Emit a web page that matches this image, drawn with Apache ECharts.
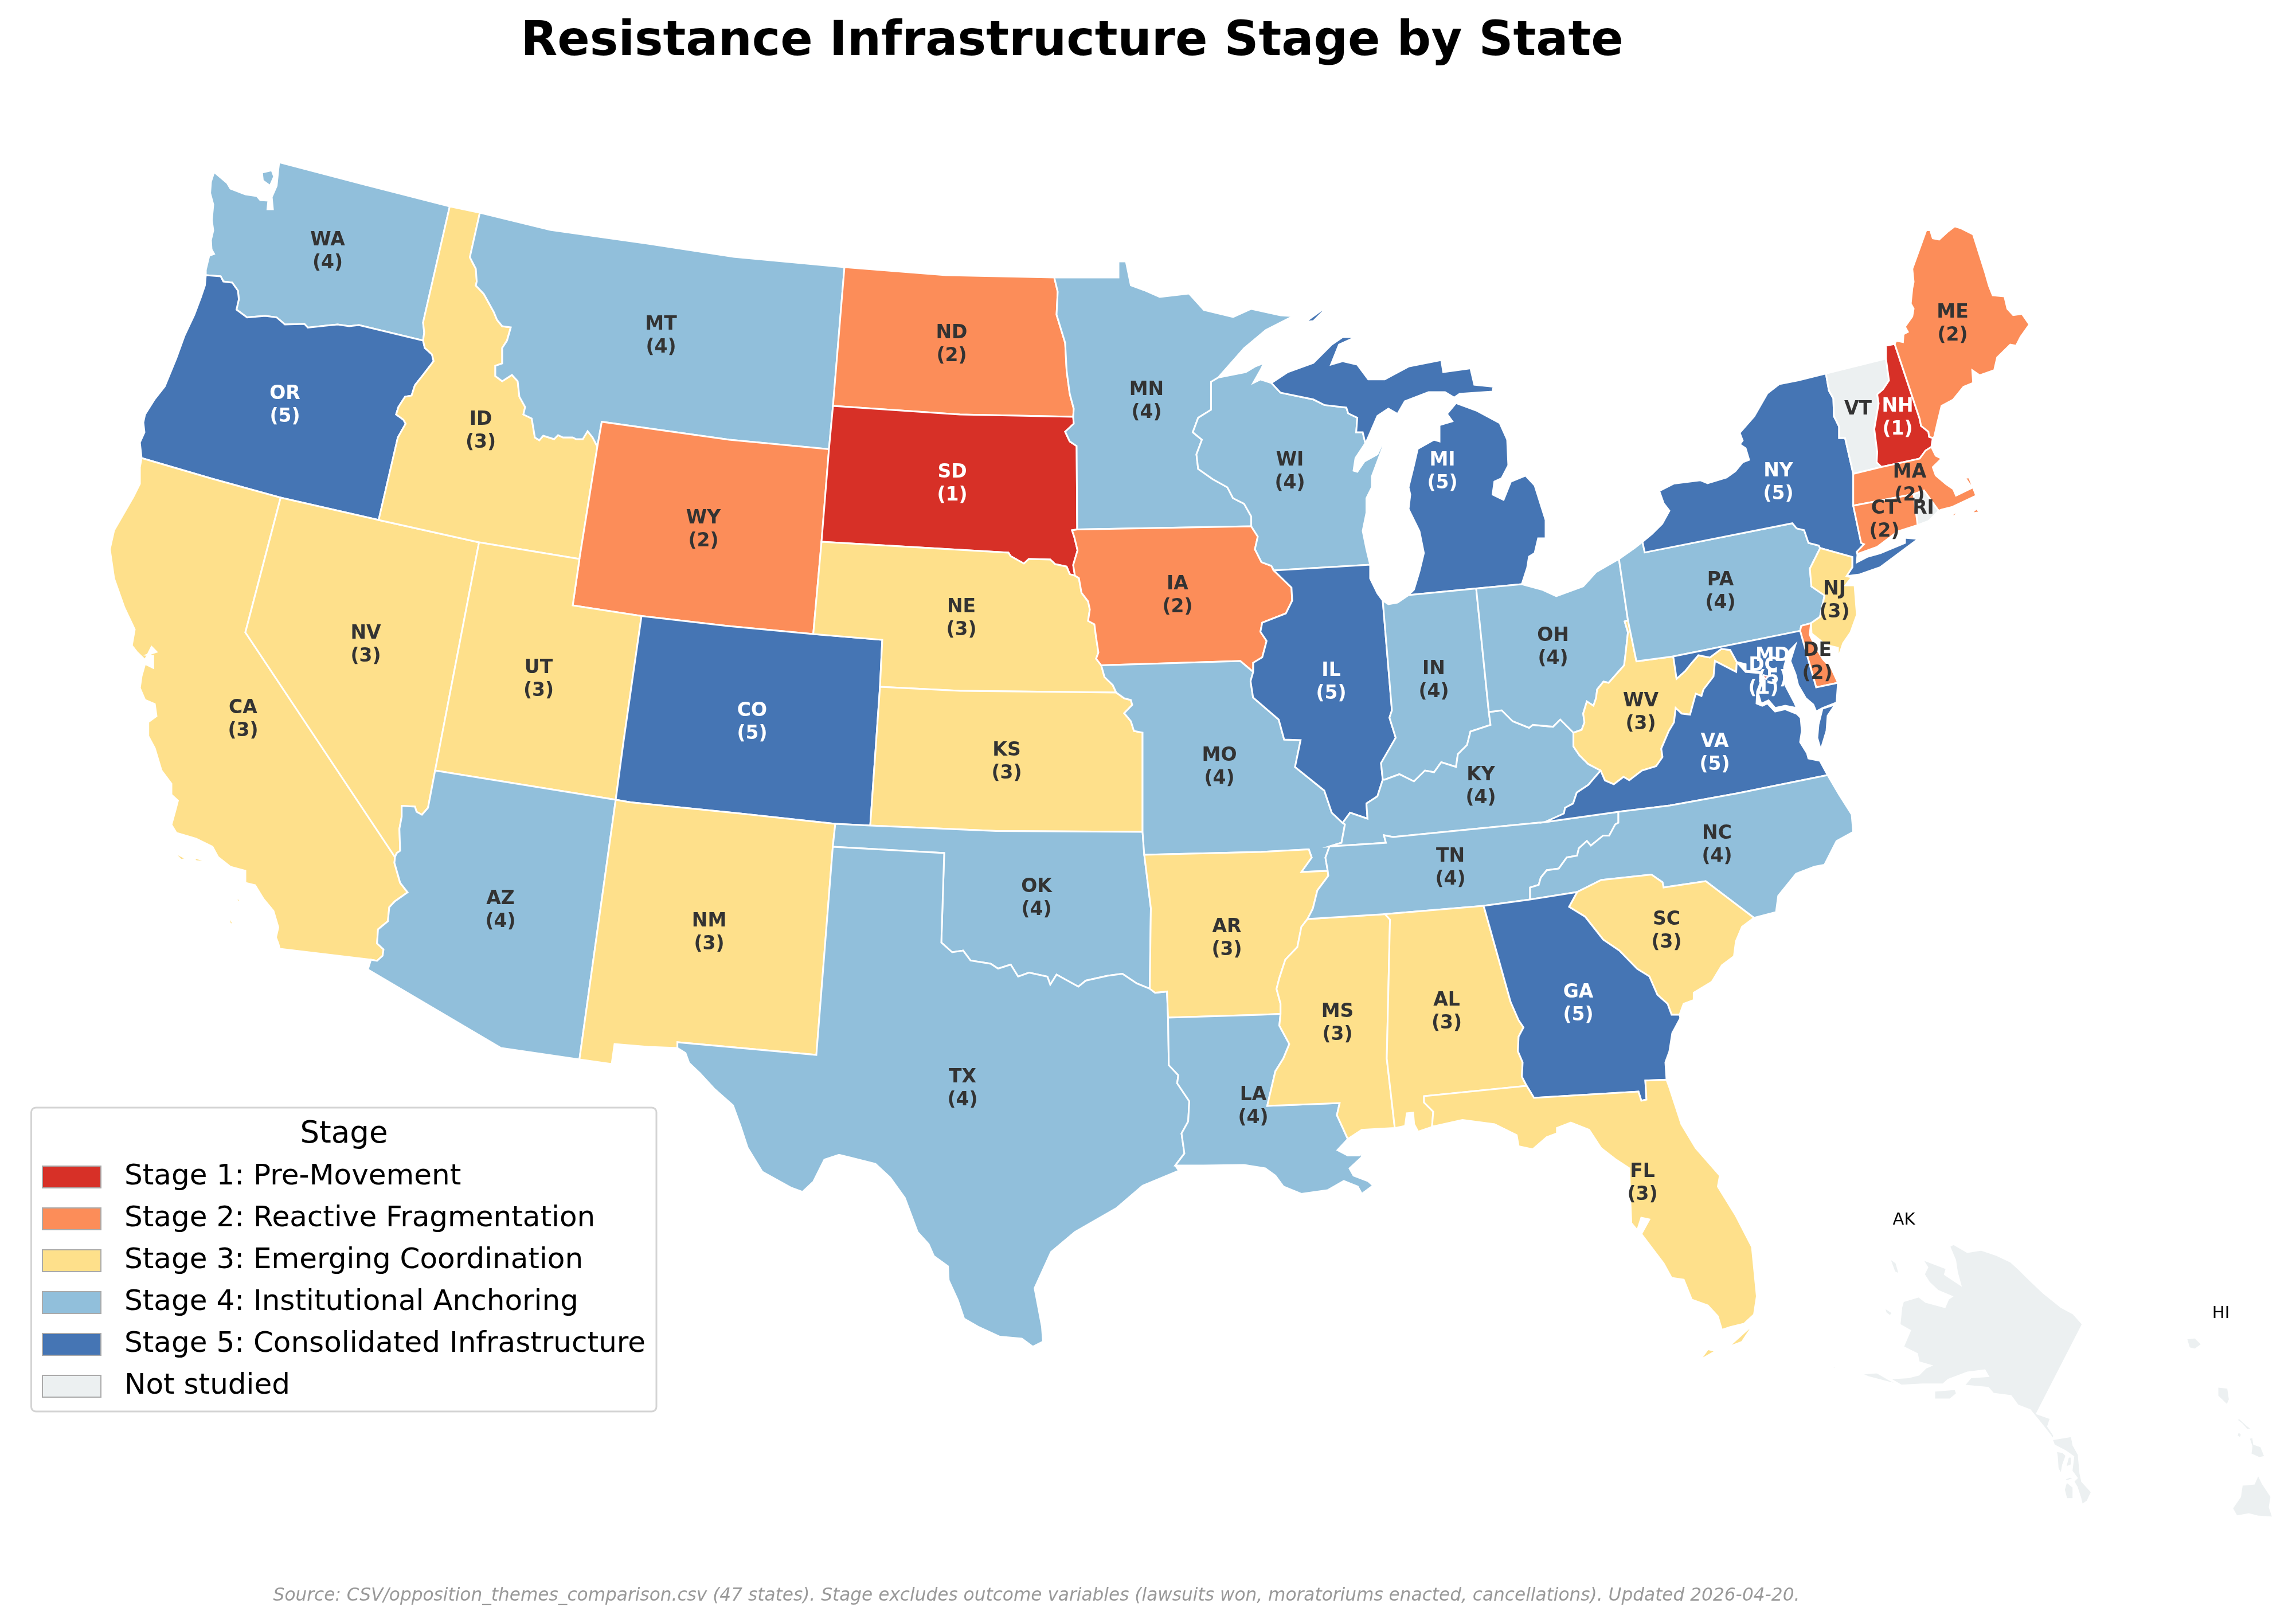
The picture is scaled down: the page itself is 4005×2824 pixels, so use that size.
<!DOCTYPE html>
<html>
<head>
<meta charset="utf-8">
<title>Resistance Infrastructure Stage by State</title>
<script src="https://cdn.jsdelivr.net/npm/echarts@6/dist/echarts.min.js"></script>
<style>
html, body { margin: 0; padding: 0; background: #fff; }
#chart { width: 4005px; height: 2824px; }
</style>
</head>
<body>
<div id="chart"></div>
<script>
// stage read for every state, 6 = not studied (last row of the legend)
const notStudied = 6;
const stateCodes = ['WA','OR','CA','NV','ID','MT','WY','UT','AZ','CO','NM','ND','SD','NE','KS','OK','TX','MN','IA','MO','AR','LA','WI','IL','MS','MI','IN','KY','TN','AL','OH','WV','VA','NC','SC','GA','FL','PA','NY','VT','NH','ME','MA','RI','CT','NJ','DE','MD','DC','AK','HI'];
const stateStages = [4,5,3,3,3,4,2,3,4,5,3,2,1,3,3,4,4,4,2,4,3,4,4,5,3,5,4,4,4,3,4,3,5,4,3,5,3,4,5,6,1,2,2,6,2,3,2,5,1,6,6];
const stageValues = [1,2,3,4,5,6];
const stageLabels = ['Stage 1: Pre-Movement','Stage 2: Reactive Fragmentation','Stage 3: Emerging Coordination','Stage 4: Institutional Anchoring','Stage 5: Consolidated Infrastructure','Not studied'];
const stageColors = ['#d73027','#fc8d59','#fee08b','#91bfdb','#4575b4','#ecf0f1'];

const titleText = 'Resistance Infrastructure Stage by State';
const sourceText = 'Source: CSV/opposition_themes_comparison.csv (47 states). Stage excludes outcome variables (lawsuits won, moratoriums enacted, cancellations). Updated 2026-04-20.';

// shared state borders, in the map's own plane
const borders = {
  wa_north: '487,283 632,321 784.5,360',
  wa_coast: '487,283 485.5,295 482.6,324 474,344 476,365 466.5,365 468,350 454,349 448,342 428,339 402,329 396,319 373.5,300 368,317 366.6,337 372,357 369.5,384 372,402 368,419 369,435 373.5,443 365,446 359,471 359,480',
  wa_or: '359,480 385,482 389.6,491 405,493 415,507 416.6,522 412.5,540 431,553.6 462.5,551 482.6,553.6 497,566 531,565 537,571.4 568.7,568 589,566 609,569 626,567 738,594',
  wa_id: '784.5,360 738,562.5 740,580 738,594',
  or_id: '738,594 741,607 753.5,618 756.4,630 738,654 723.7,672 718,690 706.5,692 695,710 691,723 703.6,732 707.6,739 694,763 660.5,907',
  or_coast: '359,480 357.4,498 350.6,518 339,549 322,585 307.5,625 287.4,674 270,696 253,723 250,737 252,754 244,772 247,799',
  ca_or: '247,799 370,835 489.5,868',
  nv_or: '489.5,868 660.5,907',
  nv_id: '660.5,907 835.6,946',
  id_ut: '835.6,946 1010.7,975',
  id_north: '784.5,360 837,371',
  id_mt: '837,371 819.6,448.7 830,469 831.6,491 830,498 844,513 861.5,544.6 867,558 876,569 891,571 884.4,594 876,607 876,634 864,638 864,656 876,665 893,654 903,665 906,692 916,710 913,723 927.5,730 933,763 940.7,768 947.6,760 966.5,766 973.4,759 982,763 999,763 1005,766 1016.5,766 1025,752 1033.7,763 1042,779',
  id_wy: '1042,779 1010.7,975',
  mt_north: '837,371 960,401 1130,425 1280,448 1473,466',
  mt_nd: '1473,466 1453,708',
  mt_sd: '1453,708 1446,783.5',
  mt_wy: '1042,779 1049.7,735.7 1272,767 1446,783.5',
  nd_north: '1473,466 1650,480 1839,484',
  nd_mn: '1839,484 1845,509 1843,549 1858,598 1860.6,647 1866,687 1873,713 1872,727',
  nd_sd: '1453,708 1674,723 1872,727',
  sd_mn: '1872,727 1873,739 1858,753 1866,770 1878,778 1879,923.5',
  sd_ia: '1879,923.5 1870,925 1874,937 1879.6,960 1872,985.5 1875,1004',
  sd_ne: '1433,945 1759,964 1763,970 1786,983 1794.6,975 1832,976 1840.5,984 1860.6,988.4 1866,1001.6 1875,1004',
  wy_sd: '1446,783.5 1433,945',
  wy_ne: '1433,945 1418.6,1106',
  wy_co: '1418.6,1106 1270,1092 1119,1074.5',
  wy_ut: '1119,1074.5 999,1056 1010.7,975',
  ne_ia: '1875,1004 1882,1008.5 1886.5,1034 1898,1049 1901,1063 1898,1083 1909,1089 1912,1112 1916,1138 1912,1149 1921,1160.6',
  ne_mo: '1921,1160.6 1926.6,1181 1941,1195 1947,1208',
  ne_ks: '1535,1198 1674,1205 1947,1208',
  co_ne: '1418.6,1106 1539,1116 1535,1198',
  co_ks: '1535,1198 1518,1440',
  co_ok: '1518,1440 1457,1437',
  nm_co: '1074,1395 1100,1399.6 1291,1419 1457,1437',
  ut_co: '1119,1074.5 1088,1291 1074,1395',
  ks_mo: '1947,1208 1961,1218 1972.6,1221 1975,1229.5 1961,1244 1972.6,1258 1978,1275 1993,1278 1993,1451',
  ks_ok: '1518,1440 1738,1449.5 1993,1451',
  ut_az: '759,1344 1074,1395',
  nv_ut: '835.6,946 759,1344',
  nv_az: '759,1344 746.6,1409 736,1421 726.6,1416 723.7,1407 700.7,1405.6 700.7,1424.6 696.7,1445.6 698,1484 692,1488 689,1495',
  ca_nv: '489.5,868 428,1103 689,1495',
  ca_az: '689,1495 688,1505 698,1540 711,1556.5 689,1572 679,1582.5 676.6,1607 659.4,1621 657.7,1645.6 669,1656 667.4,1667 657.7,1676 647,1674',
  ca_south: '647,1674 488,1655',
  ca_coast: '488,1655 485.5,1645.6 481.4,1635 485.5,1617.5 477,1589 459.6,1568 445,1544 428,1540 428,1519 402,1512 380.4,1495 370.6,1477 342,1463 307.5,1452.6 299,1438.6 305.8,1414 310.4,1396.5 299,1386 299,1367 281.7,1344 270,1305 258.7,1284 258.7,1259.6 273,1249 270,1228 253,1221 244,1200 247,1179 253,1158 267.3,1165 267.3,1144 256,1142.5 273,1137 264.4,1128.4 253,1151 238.6,1137 230,1126 235,1098 217,1060 199,1009 191.6,958 199,925 214,899 233,866 244,844 244,815 247,799',
  az_nm: '1074,1395 1010.7,1848',
  az_south: '1010.7,1848 874,1828 641.6,1691 647,1674',
  nm_ok: '1457,1437 1452.7,1477',
  nm_tx: '1452.7,1477 1424,1840 1181.6,1818 1181.6,1828',
  nm_south: '1181.6,1828 1130,1826 1072,1821 1067,1856 1010.7,1848',
  ok_mo: '1993,1451 1996,1491',
  ok_ar: '1996,1491 2007.5,1584 2005.6,1724.6',
  ok_tx: '1452.7,1477 1647,1488 1642,1644 1661,1661 1680,1658 1693,1675.4 1728,1681 1741,1689.5 1763,1682.5 1776,1703.5 1795,1696.5 1827,1703.5 1832,1717.5 1843,1700 1881,1721 1894,1710.5 1932,1702 1957.8,1698.6 1983,1715.4 2005.6,1724.6',
  ar_tx: '2005.6,1724.6 2015,1731.6 2035.6,1729.5 2037.5,1775',
  la_tx: '2037.5,1775 2038.8,1858 2055.4,1875.4 2053.4,1889.5 2074.5,1921 2072.6,1956 2061,1977 2066,2012 2050,2033',
  tx_coast: '2050,2033 2056.6,2042 1993,2068.4 1948,2107 1875,2149 1833.4,2184 1804.7,2247 1817.5,2314 1819.4,2340 1801.5,2349 1782.4,2335 1744,2331.6 1705.9,2314 1681.6,2300 1670.8,2268 1654.8,2233 1653.6,2208.8 1629,2191 1619.8,2170 1600.6,2149 1578.3,2089.5 1552.8,2054 1527,2030 1482.6,2019 1463.5,2014.4 1438,2022.8 1418.9,2061 1399.7,2079 1380.6,2072 1329.6,2043.9 1304,2001.8 1291.3,1963 1278.6,1928 1246.7,1900 1221,1872 1202,1854 1195.7,1836.8 1181.6,1828',
  mn_north: '1839,484 1951,484 1951,456 1964,456 1972.6,497.6 1995.5,506 2023,518 2074,512 2100,540.6 2151,553 2182.6,538.7 2233.7,550 2256,551.4 2208,575.7 2170,607.6 2125,658.6',
  mn_wi: '2125,658.6 2112.5,666 2112.5,714.7 2090,728.7 2080.6,754 2096.6,767 2087,792.5 2090,818 2115.7,836 2141,850 2150.8,869 2170,878.6 2182.6,901 2182.6,918',
  mn_ia: '1879,923.5 2182.6,918',
  ia_wi: '2182.6,918 2194,936 2189,958 2200.5,980.6 2217.7,987 2222,995',
  ia_il: '2222,995 2252.8,1025 2254,1047.6 2243,1070 2201.8,1086 2198.6,1102 2209.4,1118 2201.8,1146.5 2186,1156 2186,1172',
  ia_mo: '1921,1160.6 2163.5,1153 2186,1172',
  wi_superior: '2125,658.6 2173,649 2189,639.4 2205,633 2198.6,645.8 2186,668 2198.6,661.8 2217.7,668',
  wi_mi: '2217.7,668 2233.7,685 2291,696.8 2310,706.4 2348.5,711 2351.7,721 2367.6,728.7 2365.7,754 2377,754 2381.6,773',
  wi_lake: '2381.6,773 2364.4,799 2361,821 2367.6,823 2380,805 2402.7,792.5 2421.8,751 2412,780 2393,831 2393,850 2383.5,869 2383.5,894.5 2377,926 2383.5,958 2390,985',
  wi_il: '2222,995 2390,985',
  il_lake: '2390,985 2390,1009 2402.7,1035 2412,1047.6',
  il_in: '2412,1047.6 2428,1239 2423.7,1251.7 2434.6,1286.8 2409,1331 2412,1360',
  il_ky: '2412,1360 2402.7,1389 2383.5,1401.6 2385.4,1428 2355,1417.5 2342,1435.4',
  il_mo: '2186,1172 2181.4,1188 2185.8,1216.6 2230.5,1255 2240,1290 2268.7,1291 2259,1337.8 2310,1379 2323,1417.5 2342,1435.4',
  mo_ky: '2342,1435.4 2346,1438 2340,1470 2319,1476.5',
  mo_tn: '2319,1476.5 2312,1496 2316,1519',
  mo_ar: '1996,1491 2200,1486 2283,1481.6 2288,1495.7 2270,1521 2316,1519',
  ar_tn: '2316,1519 2317,1527.6 2298,1553 2290,1585 2280.7,1603',
  ar_ms: '2280.7,1603 2270,1616.8 2263,1652 2242,1674 2231.6,1706 2226.7,1725 2233.7,1750.8 2233.7,1768.6',
  ar_la: '2233.7,1768.6 2200,1770 2037.5,1775',
  ms_la: '2233.7,1768.6 2231.6,1789 2249,1821 2238.6,1846.4 2224.6,1868.7 2210.5,1929 2336.8,1924 2332,1945 2351,1986.7',
  la_coast: '2351,1986.7 2333,2006 2351,2015.4 2372,2015.4 2379,1993 2375,2018.6 2354,2038 2361,2050.5 2386,2060 2395,2068 2375.4,2082.4 2368.4,2069.6 2344,2060 2315.8,2076 2270,2082.4 2238.6,2069.6 2224.6,2050.5 2207,2038 2170,2032 2100,2033 2050,2033',
  ms_coast: '2351,1986.7 2375.4,1970.8 2433,1967.6',
  tn_ms: '2280.7,1603 2416,1594.5',
  al_ms: '2416,1594.5 2424.6,1604 2419,1846.4 2433,1967.6',
  tn_al: '2416,1594.5 2588,1580',
  al_ga: '2588,1580 2635,1747.6 2649,1779.5 2657.5,1792 2649,1808 2647.7,1833.7 2656,1853 2654.7,1878 2663,1894',
  al_fl: '2663,1894 2484,1912 2484,1923 2500,1939 2498,1964.4 2501.8,1964.4',
  al_coast: '2501.8,1964.4 2473.7,1974 2466.7,1961 2465,1941 2454,1942 2451,1964 2433,1967.6',
  tn_ga: '2588,1580 2669,1569',
  nc_ga: '2751,1556 2669,1569',
  ga_sc: '2751,1556 2737,1581.8 2765,1599 2796.5,1639 2824.6,1658 2856,1690 2877,1703 2891,1735 2908.8,1750.8 2915.8,1770 2929.8,1770',
  ga_coast: '2929.8,1770 2931,1776 2917,1802 2912,1833.7 2905,1853 2907,1883.4',
  ga_fl: '2663,1894 2675.8,1915 2858,1904 2863,1920 2872,1918 2870,1884.7 2907,1883.4',
  fl_coast: '2907,1883.4 2912,1897 2933,1961 2958,2002.7 3000,2050.5 2996.5,2069.6 3028,2120.7 3056,2175 3064.5,2261 3059.6,2292.8 3042,2309 3017.5,2315 3003.5,2319.6 2996.5,2296 2979,2277 2951,2267 2937,2232 2915.8,2229 2901.8,2203.6 2863,2152.5 2877,2127 2863,2124 2856,2146 2845.6,2133.4 2844,2098 2842,2037.8 2817.5,2021.8 2793,2002.7 2772,1970.8 2740,1958 2715.8,1967.6 2715.8,1977 2698,1983.5 2673.7,2004.6 2649,1999.5 2645.6,1980 2607,1961 2551,1953.6 2501.8,1964.4',
  sc_coast: '2929.8,1770 2936.8,1750.8 2954.4,1744.4 2954.4,1731.6 2986,1712.5 3003.5,1683.8 3024.6,1668 3028,1642 3038.6,1616.8 3059.6,1601',
  nc_sc: '3059.6,1601 2975.4,1537 2901.8,1548 2900,1539 2880.7,1525.6 2793,1535 2751,1556',
  nc_coast: '3188,1352 3208,1386 3230,1420.7 3232.6,1451 3203.5,1467 3182.5,1508.4 3165,1511.6 3133,1524 3101.8,1562.6 3098,1591 3059.6,1601',
  tn_nc: '2669,1569 2669,1548 2684,1543.5 2687.7,1530.7 2698,1518 2719,1515 2733,1495.7 2751,1492.5 2754,1479.7 2768,1467 2775,1475 2796.5,1457.4 2807,1457.4 2817.5,1438 2823,1435 2823,1416',
  tn_va: '2694.6,1434 2823,1416',
  va_nc: '2823,1416 2913,1405 3029.5,1384 3188,1352',
  ky_tn: '2319,1476.5 2417.5,1470 2414,1457 2430,1460 2586,1444.6 2694.6,1434',
  ky_va: '2694.6,1434 2728,1419 2730,1409 2744,1401.6 2750.4,1382.5 2770.5,1369 2792,1344',
  ky_wv: '2792,1344 2770.5,1332.7 2755,1317.4 2744.6,1302 2744.6,1278',
  ky_oh: '2744.6,1278 2721.6,1255 2709,1267.6 2673.7,1264.4 2667.3,1269.5 2638.6,1258 2619.5,1239 2597,1242',
  in_ky: '2597,1242 2600,1264.4 2565,1276 2559,1299.5 2543,1315.5 2539.8,1337.8 2514,1329.5 2501.5,1347 2485.6,1344 2466.4,1363 2441,1350.5 2415.4,1360 2412,1360',
  in_oh: '2575,1026.5 2597,1242',
  in_mi: '2575,1026.5 2457,1038',
  in_lake: '2457,1038 2437.8,1051 2421.8,1054 2412,1047.6',
  mi_oh: '2654.6,1019 2575,1026.5',
  mi_lake: '2457,1038 2466.4,1028.5 2476,996.6 2483.7,964.7 2476,926.4 2457,888 2460,862.6 2457,850 2466.4,811.6 2473,783 2501.5,767 2511,770 2511,741.5 2533.4,735 2524,722 2539.8,703 2575,716 2616,738 2629,767 2631,811.6 2619.5,834 2606.7,840 2603.6,862.6 2622.7,872 2635.5,840 2661,829.5 2677,846.7 2696,907 2696,939 2683,939 2677,964.7 2667,971 2664,990 2654.6,1019',
  mi_up: '2217.7,668 2246.4,649 2291,633 2323,601 2342,588 2364.4,588 2335.7,601 2321.7,636 2342,630 2367.6,636 2386.7,661.8 2415.4,661.8 2428,655 2457,639.4 2514,628 2517.5,649 2565,642.6 2571.7,671 2605,674.5 2603.6,683 2546,687 2536.6,693.6 2520.7,684 2492,684 2450.5,700 2437.8,722 2421.8,712.8 2402.7,725.5 2383.5,770 2381.6,773',
  oh_erie: '2824,975 2784,998 2761.6,1022.7 2714.7,1040 2689.7,1028.5 2654.6,1019',
  oh_pa: '2824,975 2839.7,1082',
  oh_wv: '2839.7,1082 2834,1084 2839.7,1103 2835,1145 2833,1160.5 2806,1191 2797,1189 2786,1202.6 2784,1218 2779.5,1231 2768,1223.6 2761.6,1244.7 2763.8,1260 2759,1273 2744.6,1278',
  pa_wv: '2839.7,1082 2854.5,1153.6 2918.7,1145',
  pa_md: '2918.7,1145 3140,1100.4',
  pa_de: '3140,1100.4 3142,1091.6 3159,1087',
  pa_nj: '3175,956 3157,991.7 3159.7,1023 3182.6,1038.6 3174.6,1076 3159,1087',
  pa_ny: '2865,945 2869,963.6 3126.5,912.7 3134,921.6 3147,924.7 3154.6,947 3172.4,951.5 3175,956',
  pa_lake: '2824,975 2851,956 2865,945',
  ny_lake: '2865,945 2881.6,931.4 2899.5,913.6 2912,891 2902,878 2894.4,856.4 2920,843.5 2965.8,837.7 2978.6,843 3011.7,833 3027,822 3039.8,806.4 3051,802 3045,782 3034.7,775 3039.8,768.5 3034.7,755 3060,726 3083,686 3103.6,670 3136.7,663.6 3185,651.5',
  ny_vt: '3185,651.5 3190.3,681.4 3198,695 3199,726 3208,744 3208,764 3218.4,764 3232.7,826.5',
  ny_ma: '3232.7,826.5 3232.7,882',
  ny_ct: '3232.7,882 3246.4,947 3251.5,949.3 3238.8,962.7',
  ny_nj: '3175,956 3231,971.6 3231,989.5 3221,1005',
  ny_coast: '3238.8,962.7 3240,968 3238.8,981 3258,971 3279.6,965 3323,947 3323,938 3346,940 3279.6,989.5 3243.9,1002 3221,1005',
  nj_coast: '3221,1005 3230,1007 3219,1021 3235,1021 3239,1072.5 3228,1103 3215,1122 3206,1149',
  nj_bay: '3206,1149 3206,1130 3185,1125 3160,1105 3159,1087',
  de_coast: '3159,1087 3156.7,1107 3165,1125 3180,1150 3194.6,1166 3206,1191',
  de_md: '3206,1191 3168,1199 3140,1100.4',
  md_shore: '3206,1191 3203.6,1225.5 3179,1235 3168,1241 3163,1229 3150,1218 3136.6,1195 3132,1176 3123,1153 3132,1124 3119,1137.5 3112,1164 3114,1195 3130,1225.5 3134,1235 3114,1231 3096.4,1235 3085,1221.7 3072,1227.5 3067,1210 3076,1183.4 3069.6,1172 3045,1170 3045,1158.6 3029.5,1154.7',
  md_wv: '3029.5,1154.7 3018,1133.7 3002.7,1131.8 2982.6,1147 2962.5,1143 2949,1158.6 2940,1170 2924.5,1184 2918.7,1145',
  va_coast: '3188,1352 3174.5,1327 3154.5,1323 3152,1313.6 3140,1294.4 3143,1275 3141,1252 3134,1245 3114,1237 3096.4,1241 3083,1227 3074,1231 3064,1227 3065,1206 3074,1183 3069.6,1174 3045,1172 3029.5,1154.7',
  va_wv: '3029.5,1154.7 3028.6,1172 2991.5,1152.8 2989,1179.6 2971.4,1202.6 2968,1214 2958,1210 2948,1246.6 2933.5,1244.7 2923,1235 2920,1260 2911,1275 2897.8,1306 2900,1320.5 2888.8,1336.5 2864,1344 2842,1361 2832,1355 2815,1368 2799.5,1361.4 2792,1344',
  vt_north: '3185,651.5 3289.8,625.6',
  vt_nh: '3289.8,625.6 3295,663.6 3284.7,679 3274.5,688 3277,703.8 3269.4,748.4 3274.5,788.6 3273.5,806.4 3282,814.5',
  vt_ma: '3232.7,826.5 3282,814.5',
  nh_north: '3289.8,625.6 3289.8,603 3305,600',
  nh_me: '3305,600 3348.5,730.5 3351,743 3363.8,753 3365,761.8 3371.4,764',
  nh_coast: '3371.4,764 3369,779.6',
  nh_ma: '3369,779.6 3358.7,786 3348.5,800 3282,814.5',
  me_outer: '3305,600 3307.6,594.4 3319.4,596.6 3320.4,583 3328,578.8 3323,570 3335.7,552 3338,538.6 3333,529.6 3335.7,503 3338,491.7 3335.7,469 3360,401.5 3367,401.5 3371.4,415.8 3382.6,418 3397,404.6 3409.7,394.8 3420,398 3441.8,409 3463,476 3469.4,498.4 3476,515 3496.4,517 3501.5,538.6 3511.7,549.7 3527,547.5 3539.8,566 3524.5,587.7 3516.8,603 3506.6,601 3483.7,623.4 3478.6,645.7 3453,654.6 3440.3,645.7 3441.8,668 3425,674.7 3407,697 3386.7,708 3379,739.5 3374,761.8 3371.4,764',
  ma_coast: '3369,779.6 3376.5,795 3386.7,800 3371.4,815 3376.5,829 3394.4,844.4 3407,853 3412,864.5 3440,851 3427.6,833 3435,833 3447,864.5 3404.6,884.5 3386.7,889 3381.6,891',
  ma_ri: '3338,862 3356,855.5 3381.6,891',
  ri_coast: '3381.6,891 3363.8,909 3345,916',
  ct_ma: '3232.7,882 3338,862',
  ct_ri: '3338,862 3345,916',
  ct_coast: '3345,916 3310,927 3274.5,954 3241,966 3238.8,962.7'
};

// rings that stand alone: islands, and outlines without neighbours
const islands = {
  wa_whidbey: '457,301 474,297 478,308 471,324 458.5,315',
  ca_a: '302,1486 325,1498 316,1500',
  ca_b: '336,1495 368,1504 342,1502',
  ca_c: '399,1596 408,1614 401,1611',
  ca_d: '411,1561 422,1575 414,1572',
  mi_royale: '2277,561.6 2315,534 2307,544 2291,560',
  ma_vineyard: '3407,895.7 3422.4,891 3404.6,902.4',
  ma_nantucket: '3448,887 3453,893.4 3437.8,895.7',
  fl_keys_a: '2979,2353.4 2993,2356.6 2965,2372.6',
  fl_keys_b: '3014,2350 3059.6,2309 3038.6,2340.7',
  va_shore: '3201,1229 3179,1236 3172,1264 3170,1287 3176,1308 3186,1275 3188,1248.5',
  dc: '3076.3,1177.7 3084,1179.6 3081,1184 3076.3,1181.5',
  ak_main: '3407.6,2170 3431.8,2184 3456,2180 3483.3,2189.4 3507.6,2201 3522.7,2214.7 3541,2233 3565,2255.5 3595.5,2280 3616.7,2291.4 3633,2309.8 3553,2465.7 3577,2474 3572.4,2488 3583.3,2504.5 3580,2510.6 3613.6,2505 3616.7,2521 3625.8,2537 3628.8,2570 3631.8,2584 3648.8,2602.4 3641,2618.8 3631.8,2625 3628.8,2612.7 3622.7,2594 3616.7,2584 3622.7,2578 3613.6,2565.7 3616.7,2541 3602.7,2531 3583,2520.8 3577,2504.5 3564,2488 3556,2478 3541,2459.6 3519.7,2451.4 3507.6,2435 3477,2431 3468,2420.8 3425.8,2416.7 3437.9,2402.4 3468,2400.4 3462,2390 3431.8,2394 3398.5,2406.5 3389.4,2414.7 3353,2414.7 3316.7,2416.7 3295.5,2404.5 3328.8,2402.4 3347,2398 3359,2386 3368,2382 3347,2376 3344,2361.6 3319.7,2349.4 3331.8,2320.8 3313.6,2310.6 3316.7,2280 3319.7,2269.8 3347,2261.6 3359,2271 3392.4,2280 3398.5,2265.7 3404.5,2261.6 3380.3,2251.4 3365,2237 3356,2222.9 3362,2210.6 3353,2196.3 3395.5,2212.7 3392.4,2222.9 3419.7,2241 3413.6,2218.8 3410.6,2198.4 3400.3,2173.9',
  ak_peninsula: '3295.5,2406.5 3274,2394 3250,2396 3231.8,2388 3244,2396 3259,2402 3292.4,2410.6 3316.7,2416.7',
  ak_kodiak: '3374,2426 3410.6,2423 3413.6,2431 3401.5,2441 3374,2441',
  ak_nunivak: '3286.4,2280 3301.5,2290 3297,2296 3289.4,2290',
  ak_lawrence: '3295.5,2194 3307.6,2202.4 3313.6,2222.9 3304.5,2218.8',
  ak_al1: '3171,2374.7 3183,2376 3180,2379',
  ak_al2: '3195.5,2382 3204.5,2384 3198.5,2388',
  ak_al3: '3068,2312.7 3081.5,2318.8 3074,2317.6',
  ak_al4: '3095.5,2331 3105.8,2333 3101.5,2335',
  ak_se1: '3586.4,2531 3598.5,2533 3604.5,2539 3598.5,2555.5 3595.5,2572 3589.4,2561.6 3588,2541',
  ak_se2: '3607.6,2541 3613.6,2541 3613.6,2555.5 3602.7,2559.6',
  ak_se3: '3601.5,2580 3610.6,2576 3619.7,2578 3604.5,2584',
  ak_se4: '3604.5,2584 3616.7,2594 3616.7,2614.7 3604.5,2614.7 3600.3,2598.4',
  hi_niihau: '3783.3,2327 3795.5,2325 3789.4,2328',
  hi_kauai: '3813.6,2335 3828.8,2333 3841,2345 3828.8,2354 3818.5,2351.4',
  hi_oahu: '3868,2418.8 3886.4,2420.8 3889.4,2441 3885,2451.4 3868,2435',
  hi_molokai: '3900.3,2476 3906.4,2474 3919.7,2486 3928.8,2493 3919.7,2494.3 3910.6,2484',
  hi_lanai: '3904.5,2496 3910.6,2502.4 3907.6,2508.6 3901.5,2504.5',
  hi_maui: '3922.7,2508.6 3930,2506.5 3931.8,2518.8 3944,2523 3951.2,2541 3941,2543 3925.8,2536.3 3927.6,2523',
  hi_kahoolawe: '3909.4,2528 3915.4,2529 3913.6,2532',
  hi_big: '3939,2571.8 3947,2588 3962,2610.6 3959,2629 3965,2647 3937.9,2645 3922.7,2641 3901.5,2645 3893.6,2631 3907.6,2610.6 3910.6,2590 3931.8,2588'
};

// each ring walks the borders in order, "-" means the border is walked backwards
const stateRings = {
  WA: [['wa_north','wa_id','-wa_or','-wa_coast'],['wa_whidbey']],
  OR: [['wa_or','or_id','-nv_or','-ca_or','-or_coast']],
  CA: [['ca_or','ca_nv','ca_az','ca_south','ca_coast'],['ca_a'],['ca_b'],['ca_c'],['ca_d']],
  NV: [['nv_or','nv_id','nv_ut','nv_az','-ca_nv']],
  ID: [['id_north','id_mt','id_wy','-id_ut','-nv_id','-or_id','-wa_id']],
  MT: [['mt_north','mt_nd','mt_sd','-mt_wy','-id_mt']],
  WY: [['mt_wy','wy_sd','wy_ne','wy_co','wy_ut','-id_wy']],
  UT: [['id_ut','-wy_ut','ut_co','-ut_az','-nv_ut']],
  AZ: [['ut_az','az_nm','az_south','-ca_az','-nv_az']],
  CO: [['-wy_co','co_ne','co_ks','co_ok','-nm_co','-ut_co']],
  NM: [['nm_co','nm_ok','nm_tx','nm_south','-az_nm']],
  ND: [['nd_north','nd_mn','-nd_sd','-mt_nd']],
  SD: [['nd_sd','sd_mn','sd_ia','-sd_ne','-wy_sd','-mt_sd']],
  NE: [['sd_ne','ne_ia','ne_mo','-ne_ks','-co_ne','-wy_ne']],
  KS: [['ne_ks','ks_mo','-ks_ok','-co_ks']],
  OK: [['-co_ok','ks_ok','ok_mo','ok_ar','-ok_tx','-nm_ok']],
  TX: [['ok_tx','ar_tx','la_tx','tx_coast','-nm_tx']],
  MN: [['mn_north','mn_wi','-mn_ia','-sd_mn','-nd_mn']],
  IA: [['mn_ia','ia_wi','ia_il','-ia_mo','-ne_ia','-sd_ia']],
  MO: [['ia_mo','il_mo','mo_ky','mo_tn','-mo_ar','-ok_mo','-ks_mo','-ne_mo']],
  AR: [['mo_ar','ar_tn','ar_ms','ar_la','-ar_tx','-ok_ar']],
  LA: [['-ar_la','ms_la','la_coast','-la_tx']],
  WI: [['-mn_wi','wi_superior','wi_mi','wi_lake','-wi_il','-ia_wi']],
  IL: [['wi_il','il_lake','il_in','il_ky','-il_mo','-ia_il']],
  MS: [['tn_ms','al_ms','-ms_coast','-ms_la','-ar_ms']],
  MI: [['mi_lake','mi_oh','in_mi'],['-wi_mi','mi_up'],['mi_royale']],
  IN: [['in_mi','in_lake','il_in','-in_ky','-in_oh']],
  KY: [['-il_ky','-in_ky','-ky_oh','-ky_wv','-ky_va','-ky_tn','-mo_ky']],
  TN: [['ky_tn','tn_va','-tn_nc','-tn_ga','-tn_al','-tn_ms','-ar_tn','-mo_tn']],
  AL: [['tn_al','al_ga','al_fl','al_coast','-al_ms']],
  OH: [['mi_oh','in_oh','-ky_oh','-oh_wv','-oh_pa','oh_erie']],
  WV: [['oh_wv','-ky_wv','-va_wv','md_wv','-pa_wv']],
  VA: [['tn_va','va_nc','va_coast','va_wv','-ky_va'],['va_shore']],
  NC: [['tn_nc','va_nc','nc_coast','nc_sc','nc_ga']],
  SC: [['nc_sc','ga_sc','sc_coast']],
  GA: [['tn_ga','-nc_ga','ga_sc','ga_coast','-ga_fl','-al_ga']],
  FL: [['ga_fl','fl_coast','-al_fl'],['fl_keys_a'],['fl_keys_b']],
  PA: [['pa_lake','pa_ny','pa_nj','-pa_de','-pa_md','-pa_wv','-oh_pa']],
  NY: [['ny_lake','ny_vt','ny_ma','ny_ct','ny_coast','-ny_nj','-pa_ny']],
  VT: [['vt_north','vt_nh','-vt_ma','-ny_vt']],
  NH: [['nh_north','nh_me','nh_coast','nh_ma','-vt_nh']],
  ME: [['me_outer','-nh_me']],
  MA: [['vt_ma','-nh_ma','ma_coast','-ma_ri','-ct_ma','-ny_ma'],['ma_vineyard'],['ma_nantucket']],
  RI: [['ma_ri','ri_coast','-ct_ri']],
  CT: [['ct_ma','ct_ri','ct_coast','-ny_ct']],
  NJ: [['ny_nj','nj_coast','nj_bay','-pa_nj']],
  DE: [['pa_de','de_coast','de_md']],
  MD: [['-de_md','md_shore','md_wv','pa_md']],
  DC: [['dc']],
  AK: [['ak_main'],['ak_peninsula'],['ak_kodiak'],['ak_nunivak'],['ak_lawrence'],['ak_al1'],['ak_al2'],['ak_al3'],['ak_al4'],['ak_se1'],['ak_se2'],['ak_se3'],['ak_se4']],
  HI: [['hi_niihau'],['hi_kauai'],['hi_oahu'],['hi_molokai'],['hi_lanai'],['hi_maui'],['hi_kahoolawe'],['hi_big']]
};

// where each state's label sits
const labelPoints = {
  WA:[571.5,437],OR:[497,705],ID:[838.5,750],CA:[424,1253],NV:[638,1123],UT:[939.5,1183],AZ:[873,1586],
  MT:[1153,584],ND:[1660,599],SD:[1661,842],WY:[1227,922],NE:[1677,1077],CO:[1312,1258],KS:[1756,1327],
  NM:[1237,1625],OK:[1808,1565],TX:[1679,1897],MN:[2000,698],WI:[2250,821],IA:[2054,1037],MI:[2516,821],
  IL:[2322,1188],IN:[2501,1185],OH:[2709,1127],MO:[2127,1336],KY:[2583,1370],ME:[3406,563],NH:[3310,727],
  VT:[3241,712],NY:[3102,840],MA:[3331,842],CT:[3287,905],RI:[3355,885],PA:[3001,1030],NJ:[3200,1046],
  DE:[3170,1153],MD:[3092,1162],DC:[3076,1179],WV:[2862,1241],VA:[2991,1312],NC:[2995,1472],TN:[2530,1512],
  SC:[2907,1622],GA:[2753,1749],AL:[2523.5,1763.5],MS:[2333,1783],FL:[2865,2062],AR:[2140,1635],LA:[2186,1928],
  AK:[3321,2126],HI:[3874,2289]
};

function parsePoints(s) {
  return s.trim().split(/\s+/).map(function (p) { return p.split(',').map(Number); });
}

function buildRing(keys) {
  var ring = [];
  keys.forEach(function (key) {
    var back = key.charAt(0) === '-';
    var name = back ? key.slice(1) : key;
    var pts = parsePoints(borders[name] || islands[name]);
    if (back) pts.reverse();
    ring = ring.concat(ring.length ? pts.slice(1) : pts);
  });
  ring.push(ring[0]);
  return ring;
}

var features = stateCodes.map(function (code) {
  return {
    type: 'Feature',
    properties: { name: code, cp: labelPoints[code] },
    geometry: {
      type: 'MultiPolygon',
      coordinates: stateRings[code].map(function (keys) { return [buildRing(keys)]; })
    }
  };
});
echarts.registerMap('usStates', { type: 'FeatureCollection', features: features });

var seriesData = stateCodes.map(function (code, i) {
  var stage = stateStages[i];
  var smallLabel = code === 'AK' || code === 'HI';
  return {
    name: code,
    value: stage,
    label: {
      color: smallLabel ? '#000' : (stage === 1 || stage === 5 ? '#fff' : '#333'),
      fontWeight: smallLabel ? 'normal' : 'bold',
      fontSize: smallLabel ? 29 : 33
    }
  };
});

// legend frame and swatch edges, the swatches themselves come from visualMap
// visualMap lays out by the text box, so its swatch sits a little under its top
var legendLeft = 75, legendTop = 2028, swatchDrop = 7, rowStep = 73, swatchW = 100, swatchH = 36, legendTextSize = 50;
var legendGraphics = [
  { type: 'rect', z: 3, shape: { x: 54.5, y: 1932, width: 1090.5, height: 530, r: 8 }, style: { fill: '#fff', stroke: '#d4d4d4', lineWidth: 3 } },
  { type: 'text', z: 5, x: 600, y: 1979, style: { text: 'Stage', font: '53px "DejaVu Sans"', fill: '#000', textAlign: 'center', textVerticalAlign: 'middle' } }
];
stageValues.forEach(function (v, i) {
  legendGraphics.push({ type: 'rect', z: 3, shape: { x: legendLeft - 2, y: legendTop + swatchDrop + i * rowStep - 2, width: swatchW + 4, height: swatchH + 4 }, style: { fill: '#aaa' } });
});

var chart = echarts.init(document.getElementById('chart'), null, { renderer: 'canvas' });
chart.setOption({
  animation: false,
  backgroundColor: '#fff',
  textStyle: { fontFamily: '"DejaVu Sans"' },
  title: [
    { text: titleText, left: 1865, top: 28, textAlign: 'center', textStyle: { fontFamily: '"DejaVu Sans"', fontSize: 83.3, fontWeight: 'bold', color: '#000' } },
    { text: sourceText, left: 1803, top: 2763, textAlign: 'center', textStyle: { fontFamily: '"DejaVu Sans"', fontSize: 31.2, fontWeight: 'normal', fontStyle: 'italic', color: '#999' } }
  ],
  visualMap: {
    type: 'piecewise',
    seriesIndex: 0,
    orient: 'vertical',
    inverse: true,
    left: legendLeft,
    top: legendTop,
    padding: 0,
    itemWidth: swatchW,
    itemHeight: swatchH,
    itemGap: rowStep - legendTextSize,
    textGap: 42,
    itemSymbol: 'rect',
    selectedMode: false,
    hoverLink: false,
    align: 'left',
    textStyle: { fontFamily: '"DejaVu Sans"', fontSize: legendTextSize, color: '#000' },
    pieces: stageValues.map(function (v, i) {
      return { value: v, label: stageLabels[i], color: stageColors[i] };
    })
  },
  graphic: legendGraphics,
  series: [{
    type: 'map',
    map: 'usStates',
    projection: {
      project: function (p) { return [p[0], p[1]]; },
      unproject: function (p) { return [p[0], p[1]]; }
    },
    boundingCoords: [[0, 0], [4005, 2824]],
    left: 0,
    top: 0,
    width: 4005,
    height: 2824,
    aspectScale: 1,
    roam: false,
    silent: true,
    selectedMode: false,
    itemStyle: { borderColor: '#fff', borderWidth: 3 },
    label: {
      show: true,
      fontFamily: '"DejaVu Sans"',
      lineHeight: 40,
      offset: [0, 2],
      formatter: function (p) {
        return p.value === notStudied ? p.name : p.name + '\n(' + p.value + ')';
      }
    },
    data: seriesData
  }]
});
</script>
</body>
</html>
